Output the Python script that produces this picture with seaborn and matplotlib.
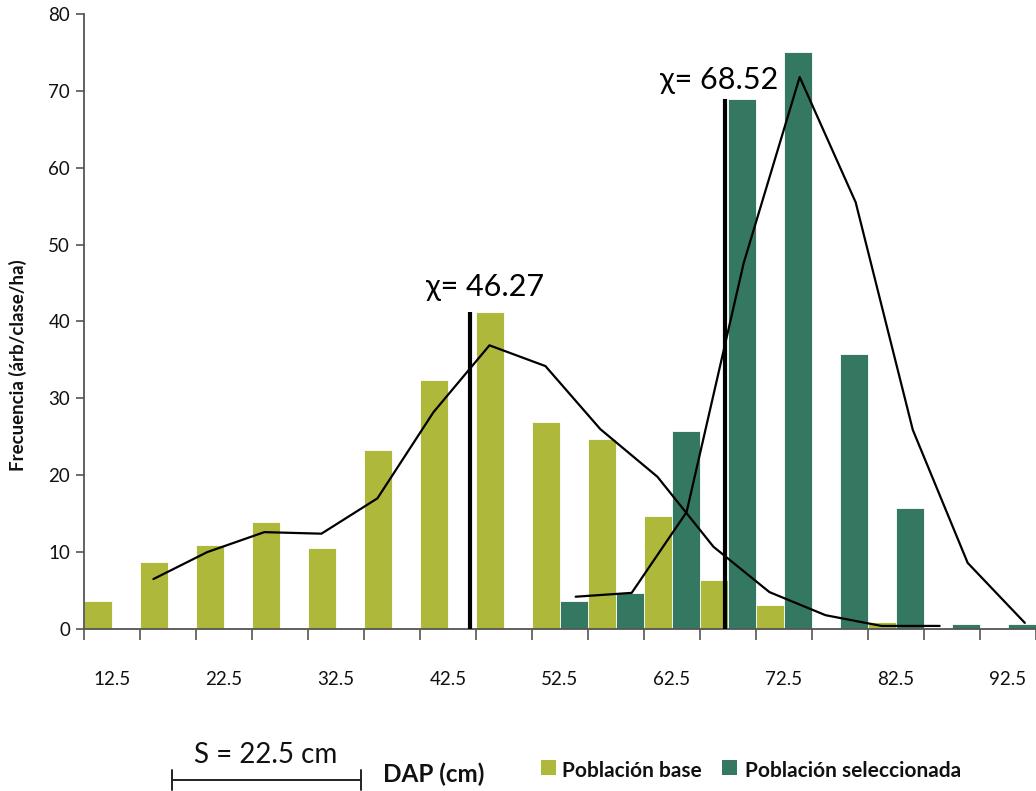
import numpy as np
import pandas as pd
import matplotlib
matplotlib.use("Agg")
import matplotlib.pyplot as plt
from matplotlib.lines import Line2D
from matplotlib.patches import Rectangle
import seaborn as sns

# Diameter classes (class mid-points, cm)
clases = [12.5, 17.5, 22.5, 27.5, 32.5, 37.5, 42.5, 47.5, 52.5,
          57.5, 62.5, 67.5, 72.5, 77.5, 82.5, 87.5, 92.5]

# Frequencies (trees / class / ha)
poblacion_base = [3.7, 8.7, 10.9, 13.9, 10.6, 23.3, 32.4, 41.3, 26.9,
                  24.7, 14.7, 6.4, 3.1, 0.0, 0.9, 0.0, 0.0]
poblacion_sel = [0.0, 0.0, 0.0, 0.0, 0.0, 0.0, 0.0, 0.0, 3.7,
                 4.7, 25.8, 68.9, 75.0, 35.8, 15.8, 0.7, 0.7]

# Smoothed distribution curves (DAP in cm, frequency)
curva_base_dap = [16.2, 21.0, 26.1, 31.2, 36.2, 41.2, 46.2, 51.2, 56.1,
                  61.2, 66.2, 71.2, 76.2, 81.2, 86.4]
curva_base_frec = [6.5, 10.0, 12.6, 12.4, 17.0, 28.2, 36.9, 34.2, 26.0,
                   19.8, 10.7, 4.8, 1.8, 0.4, 0.4]
curva_sel_dap = [53.9, 58.9, 63.8, 68.9, 73.9, 78.9, 84.0, 88.9, 94.0]
curva_sel_frec = [4.2, 4.7, 15.2, 47.6, 71.8, 55.5, 25.9, 8.6, 0.8]

# Mean markers
media_dap = [44.5, 67.2]
media_etiquetas = ["\u03c7= 46.27", "\u03c7= 68.52"]

series = ["Población base", "Población seleccionada"]
colores = ["#AEB83A", "#357862"]

df = pd.DataFrame({
    "clase": [f"{c:g}" for c in clases] * 2,
    "serie": [series[0]] * len(clases) + [series[1]] * len(clases),
    "frec": poblacion_base + poblacion_sel,
})

sns.set_theme(style="white")
plt.rcParams["font.family"] = ["Lato", "DejaVu Sans"]
plt.rcParams["text.color"] = "#111111"

W, H = 1036, 791
fig = plt.figure(figsize=(W / 100, H / 100), dpi=100)
ax = fig.add_axes([84 / W, 1 - 629 / H, 952 / W, 615 / H])

sns.barplot(data=df, x="clase", y="frec", hue="serie", palette=colores,
            width=1.0, saturation=1, dodge=True, legend=False,
            edgecolor="white", linewidth=0.6, ax=ax)


def pos(dap):
    return (np.asarray(dap) - clases[0]) / 5.0


ax.plot(pos(curva_base_dap), curva_base_frec, color="black", lw=1.6,
        zorder=4)
ax.plot(pos(curva_sel_dap), curva_sel_frec, color="black", lw=1.6,
        zorder=4)

# Vertical mean lines reach the height of the neighbouring modal bar
alturas = [poblacion_base[7], poblacion_sel[11]]
for d, h in zip(media_dap, alturas):
    ax.vlines(pos(d), 0, h, color="black", lw=3.0, zorder=5)

ax.text(pos(media_dap[0]) + 0.27, 43.3, media_etiquetas[0], ha="center",
        va="baseline", fontsize=22, color="black",
        family=["Lato", "DejaVu Sans"])
ax.text(pos(media_dap[1]) - 0.09, 70.2, media_etiquetas[1], ha="center",
        va="baseline", fontsize=22, color="black",
        family=["Lato", "DejaVu Sans"])

ax.set_xlim(-0.5, len(clases) - 0.5)
ax.set_ylim(0, 80)
ax.set_xlabel("")
ax.set_ylabel("")

# Class boundaries as tick marks, every other class mid-point labelled
ax.set_xticks(np.arange(-0.5, len(clases), 1.0))
ax.set_xticklabels([])
ax.set_xticks(np.arange(0, len(clases), 2), minor=True)
ax.set_xticklabels([f"{clases[i]:g}" for i in range(0, len(clases), 2)],
                   minor=True)
ax.tick_params(axis="x", which="major", direction="out", length=8,
               width=1.2, color="#555555", bottom=True)
ax.tick_params(axis="x", which="minor", length=0, pad=30, labelsize=13.5,
               labelcolor="#111111")
ax.set_yticks(np.arange(0, 81, 10))
ax.tick_params(axis="y", direction="out", length=6, width=1.2,
               color="#555555", labelsize=13.5, pad=4, left=True,
               labelcolor="#111111")

sns.despine(ax=ax)
for s in ("left", "bottom"):
    ax.spines[s].set_color("#555555")
    ax.spines[s].set_linewidth(1.3)

fig.text(18 / W, 1 - 365 / H, "Frecuencia (árb/clase/ha)", rotation=90,
         ha="center", va="center", fontsize=13.5, fontweight="bold")

# Scale bar
y_bar = 1 - 780 / H
fig.add_artist(Line2D([172 / W, 361 / W], [y_bar, y_bar], color="#222222",
                      lw=1.4, transform=fig.transFigure))
for xx in (172, 361):
    fig.add_artist(Line2D([xx / W, xx / W], [1 - 770 / H, 1 - 790 / H],
                          color="#222222", lw=1.4,
                          transform=fig.transFigure))
fig.text(266 / W, 1 - 755 / H, "S = 22.5 cm", ha="center", va="center",
         fontsize=20, fontweight="normal")
fig.text(383 / W, 1 - 774 / H, "DAP (cm)", ha="left", va="center",
         fontsize=17.5, fontweight="bold")

# Legend
for xs, xt, lab, col in ((541, 562, series[0], colores[0]),
                         (722, 745, series[1], colores[1])):
    fig.add_artist(Rectangle((xs / W, 1 - 775 / H), 15 / W, 15 / H,
                             facecolor=col, edgecolor="none",
                             transform=fig.transFigure))
    fig.text(xt / W, 1 - 771 / H, lab, ha="left", va="center",
             fontsize=15, fontweight="bold")

fig.savefig("out.png", dpi=100)
